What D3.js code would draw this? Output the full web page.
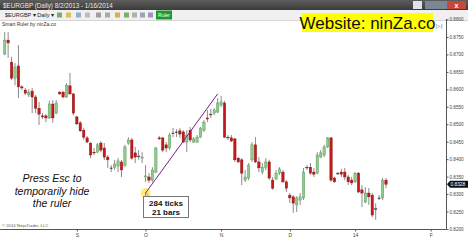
<!DOCTYPE html>
<html>
<head>
<meta charset="utf-8">
<script src="https://cdn.jsdelivr.net/npm/d3@7"></script>
<style>
  body { margin: 0; background: #fff; }
  svg { display: block; font-family: "Liberation Sans", Arial, sans-serif; }
</style>
</head>
<body>
<svg id="chart" width="468" height="240"></svg>
<script>
// Daily EURGBP candles, 8/2/2013 - 1/16/2014 (prices)
var opens = [0.8701,0.8741,0.8678,0.8632,0.8667,0.8607,0.8598,0.8584,0.8595,0.8578,
  0.8546,0.8524,0.8524,0.8518,0.8558,0.8532,0.8592,0.8592,0.8578,0.8610,
  0.8587,0.8521,0.8504,0.8483,0.8461,0.8446,0.8420,0.8420,0.8446,0.8432,
  0.8406,0.8375,0.8377,0.8380,0.8392,0.8383,0.8446,0.8455,0.8418,0.8409,
  0.8403,0.8349,0.8349,0.8340,0.8363,0.8461,0.8461,0.8441,0.8432,0.8475,
  0.8478,0.8481,0.8478,0.8449,0.8483,0.8449,0.8449,0.8463,0.8483,0.8518,
  0.8529,0.8532,0.8535,0.8555,0.8561,0.8463,0.8461,0.8458,0.8403,0.8398,
  0.8340,0.8346,0.8398,0.8441,0.8392,0.8363,0.8377,0.8392,0.8340,0.8343,
  0.8360,0.8363,0.8335,0.8297,0.8292,0.8269,0.8283,0.8289,0.8377,0.8377,
  0.8363,0.8360,0.8406,0.8412,0.8435,0.8461,0.8346,0.8360,0.8363,0.8363,
  0.8349,0.8340,0.8335,0.8360,0.8312,0.8277,0.8303,0.8297,0.8257,0.8289,
  0.8289,0.8340];
var highs = [0.8764,0.8764,0.8693,0.8675,0.8727,0.8612,0.8604,0.8601,0.8604,0.8584,
  0.8564,0.8532,0.8529,0.8567,0.8569,0.8569,0.8595,0.8595,0.8618,0.8647,
  0.8589,0.8524,0.8509,0.8489,0.8466,0.8449,0.8432,0.8446,0.8452,0.8446,
  0.8412,0.8383,0.8398,0.8403,0.8398,0.8441,0.8463,0.8461,0.8435,0.8426,
  0.8420,0.8383,0.8360,0.8377,0.8435,0.8466,0.8463,0.8449,0.8475,0.8489,
  0.8486,0.8489,0.8483,0.8483,0.8492,0.8463,0.8469,0.8492,0.8512,0.8541,
  0.8544,0.8546,0.8575,0.8581,0.8567,0.8469,0.8469,0.8461,0.8406,0.8403,
  0.8369,0.8389,0.8449,0.8463,0.8406,0.8389,0.8403,0.8398,0.8349,0.8369,
  0.8377,0.8369,0.8340,0.8303,0.8297,0.8294,0.8303,0.8375,0.8383,0.8389,
  0.8375,0.8420,0.8426,0.8441,0.8463,0.8463,0.8349,0.8363,0.8372,0.8375,
  0.8355,0.8349,0.8363,0.8363,0.8326,0.8320,0.8317,0.8303,0.8274,0.8297,
  0.8346,0.8346];
var lows = [0.8698,0.8690,0.8627,0.8612,0.8575,0.8598,0.8584,0.8578,0.8532,0.8532,
  0.8498,0.8515,0.8506,0.8515,0.8504,0.8529,0.8584,0.8575,0.8575,0.8584,
  0.8526,0.8498,0.8478,0.8455,0.8446,0.8403,0.8412,0.8418,0.8420,0.8398,
  0.8375,0.8363,0.8369,0.8363,0.8349,0.8377,0.8441,0.8398,0.8389,0.8398,
  0.8389,0.8335,0.8332,0.8335,0.8360,0.8455,0.8420,0.8420,0.8426,0.8463,
  0.8463,0.8461,0.8446,0.8420,0.8449,0.8446,0.8446,0.8461,0.8478,0.8506,
  0.8518,0.8526,0.8532,0.8549,0.8461,0.8455,0.8449,0.8392,0.8389,0.8326,
  0.8335,0.8340,0.8392,0.8389,0.8363,0.8357,0.8369,0.8340,0.8312,0.8340,
  0.8355,0.8332,0.8306,0.8274,0.8246,0.8249,0.8269,0.8283,0.8369,0.8355,
  0.8349,0.8357,0.8403,0.8406,0.8432,0.8335,0.8332,0.8355,0.8349,0.8340,
  0.8326,0.8326,0.8332,0.8303,0.8263,0.8274,0.8269,0.8234,0.8226,0.8283,
  0.8283,0.8317];
var closes = [0.8741,0.8733,0.8632,0.8664,0.8607,0.8604,0.8589,0.8592,0.8578,0.8546,
  0.8529,0.8521,0.8518,0.8558,0.8518,0.8561,0.8587,0.8578,0.8612,0.8587,
  0.8532,0.8501,0.8481,0.8463,0.8449,0.8412,0.8418,0.8441,0.8426,0.8406,
  0.8398,0.8374,0.8386,0.8395,0.8369,0.8435,0.8455,0.8403,0.8406,0.8408,
  0.8406,0.8352,0.8340,0.8369,0.8432,0.8458,0.8426,0.8432,0.8469,0.8474,
  0.8477,0.8472,0.8449,0.8469,0.8455,0.8458,0.8463,0.8489,0.8506,0.8515,
  0.8528,0.8541,0.8561,0.8564,0.8463,0.8462,0.8452,0.8398,0.8392,0.8360,
  0.8349,0.8383,0.8441,0.8392,0.8375,0.8377,0.8392,0.8346,0.8317,0.8360,
  0.8372,0.8335,0.8317,0.8289,0.8274,0.8289,0.8292,0.8363,0.8376,0.8360,
  0.8357,0.8412,0.8418,0.8435,0.8461,0.8340,0.8335,0.8359,0.8357,0.8349,
  0.8335,0.8332,0.8360,0.8306,0.8303,0.8303,0.8292,0.8240,0.8258,0.8288,
  0.8340,0.8328];

// month ticks (bar index where the month starts)
var tickIndex = [21, 41, 63, 83, 102, 124];
var tickLabels = ["S", "O", "N", "D", "14", "F"];

var priceTicks = d3.range(0.8200, 0.88001, 0.0050);

// Smart Ruler measurement
var ruler = { startBar: 41, startPrice: 0.8303, bars: 21, ticks: 284, tickSize: 0.0001 };

var svg = d3.select("#chart");

var axisX = 446, axisY = 229;

var x = d3.scaleLinear()
    .domain([0, opens.length - 1])
    .range([4.7, 386]);

var y = d3.scaleLinear()
    .domain([0.8200, 0.8800])
    .range([229, 19.5]);

// --- window title bar
var titleGrad = svg.append("defs").append("linearGradient")
    .attr("id", "titleGrad").attr("x1", 0).attr("x2", 0).attr("y1", 0).attr("y2", 1);
titleGrad.append("stop").attr("offset", "0%").attr("stop-color", "#5d5d5d");
titleGrad.append("stop").attr("offset", "100%").attr("stop-color", "#3a3a3a");

svg.append("rect").attr("x", 0).attr("y", 0).attr("width", 468).attr("height", 10)
    .attr("fill", "url(#titleGrad)");
svg.append("text").attr("x", 3).attr("y", 7.5)
    .attr("font-size", 6.3).attr("fill", "#e8e8e8")
    .text("$EURGBP (Daily)  8/2/2013 - 1/16/2014");

// window buttons
svg.append("rect").attr("x", 413).attr("y", 1).attr("width", 9).attr("height", 8).attr("fill", "#dde3ea");
svg.append("rect").attr("x", 425).attr("y", 1).attr("width", 11).attr("height", 8).attr("fill", "#7a8796");
svg.append("rect").attr("x", 436).attr("y", 1).attr("width", 11).attr("height", 8).attr("fill", "#7a8796");
svg.append("rect").attr("x", 447).attr("y", 1).attr("width", 19).attr("height", 8).attr("fill", "#c8463a");
svg.append("text").attr("x", 456.5).attr("y", 7.5).attr("text-anchor", "middle")
    .attr("font-size", 7).attr("font-weight", "bold").attr("fill", "#fff").text("x");

// --- toolbar
svg.append("rect").attr("x", 0).attr("y", 10).attr("width", 468).attr("height", 10).attr("fill", "#f0f0f0");
svg.append("line").attr("x1", 0).attr("x2", 468).attr("y1", 20.5).attr("y2", 20.5).attr("stroke", "#d6d6d6");
svg.append("text").attr("x", 5).attr("y", 17).attr("font-size", 5.5).attr("fill", "#222")
    .text("$EURGBP \u25BE  Daily \u25BE");
var icons = [57, 66, 76, 85, 96, 105, 115, 124, 132, 140, 148];
var iconColors = ["#5aa04a", "#d8b030", "#7aa0c8", "#b0b0b0", "#8a8a8a", "#9a9a9a", "#d89a30", "#5aa04a", "#a0a0a0", "#9090a0", "#8a7ab8"];
svg.selectAll(".icon").data(icons).enter().append("rect")
    .attr("class", "icon")
    .attr("x", function(d) { return d; }).attr("y", 12.5)
    .attr("width", 5).attr("height", 5)
    .attr("fill", function(d, i) { return iconColors[i]; })
    .attr("opacity", 0.8);
svg.append("rect").attr("x", 156).attr("y", 10.5).attr("width", 16).attr("height", 9).attr("fill", "#1f9a2a");
svg.append("text").attr("x", 164).attr("y", 17).attr("text-anchor", "middle")
    .attr("font-size", 5).attr("fill", "#fff").text("Ruler");

svg.append("text").attr("x", 2).attr("y", 26).attr("font-size", 5).attr("fill", "#333")
    .text("Smart Ruler by ninZa.co");

// --- axes
svg.append("line").attr("x1", axisX + 0.5).attr("x2", axisX + 0.5).attr("y1", 19).attr("y2", axisY)
    .attr("stroke", "#555");
svg.append("line").attr("x1", 0).attr("x2", axisX + 0.5).attr("y1", axisY + 0.5).attr("y2", axisY + 0.5)
    .attr("stroke", "#555");

var yAxis = svg.append("g").attr("transform", "translate(" + (axisX + 0.5) + ",0)")
    .call(d3.axisRight(y).tickValues(priceTicks).tickSize(2).tickFormat(d3.format(".4f")));
yAxis.select(".domain").remove();
yAxis.selectAll("line").attr("stroke", "#555");
yAxis.selectAll("text").attr("font-size", 4.6).attr("fill", "#444").attr("x", 3)
    .attr("font-family", "Liberation Sans, Arial, sans-serif");

var xAxis = svg.append("g").attr("transform", "translate(0," + (axisY + 0.5) + ")")
    .call(d3.axisBottom(x).tickValues(tickIndex).tickSize(2)
        .tickFormat(function(d, i) { return tickLabels[i]; }));
xAxis.select(".domain").remove();
xAxis.selectAll("line").attr("stroke", "#555");
xAxis.selectAll("text").attr("font-size", 5).attr("fill", "#444").attr("y", 4)
    .attr("font-family", "Liberation Sans, Arial, sans-serif");

svg.append("text").attr("x", 2).attr("y", 227).attr("font-size", 4.2).attr("fill", "#555")
    .text("\u00A9 2014 NinjaTrader, LLC");

// --- candles
var candles = svg.append("g").selectAll("g")
    .data(opens.map(function(o, i) {
        return { i: i, o: o, h: highs[i], l: lows[i], c: closes[i] };
    }))
    .enter().append("g");

candles.append("line")
    .attr("x1", function(d) { return x(d.i); })
    .attr("x2", function(d) { return x(d.i); })
    .attr("y1", function(d) { return y(d.h); })
    .attr("y2", function(d) { return y(d.l); })
    .attr("stroke", "#6e6e6e").attr("stroke-width", 0.8);

candles.append("rect")
    .attr("x", function(d) { return x(d.i) - 1.2; })
    .attr("width", 2.4)
    .attr("y", function(d) { return y(Math.max(d.o, d.c)); })
    .attr("height", function(d) { return Math.max(0.8, Math.abs(y(d.o) - y(d.c))); })
    .attr("fill", function(d) {
        if (Math.abs(d.o - d.c) < 0.00015) return "#444";
        return d.c > d.o ? "#8fca8f" : "#c41a1a";
    })
    .attr("stroke", function(d) {
        if (Math.abs(d.o - d.c) < 0.00015) return "#444";
        return d.c > d.o ? "#4f8f4f" : "#8a0c0c";
    })
    .attr("stroke-width", 0.4);

// last price marker
var last = closes[closes.length - 1];
svg.append("path")
    .attr("d", "M" + (axisX + 1) + "," + y(last) + "l3,-3.5h19v7h-19z")
    .attr("fill", "#111");
svg.append("text").attr("x", axisX + 4.5).attr("y", y(last) + 2)
    .attr("font-size", 4.8).attr("fill", "#fff").text(d3.format(".4f")(last));

// --- website banner
svg.append("rect").attr("x", 302).attr("y", 13).attr("width", 131).attr("height", 19).attr("fill", "#ffff00");
svg.append("text").attr("x", 367.5).attr("y", 28.5).attr("text-anchor", "middle")
    .attr("font-size", 17).attr("fill", "#111").text("Website: ninZa.co");
svg.append("text").attr("x", 436).attr("y", 28).attr("font-size", 6).attr("fill", "#666").text("\u25B7|");

// --- hint text
var hint = ["Press Esc to", "temporarily hide", "the ruler"];
svg.append("g").selectAll("text").data(hint).enter().append("text")
    .attr("x", 52).attr("y", function(d, i) { return 182 + i * 12.5; })
    .attr("text-anchor", "middle").attr("font-size", 10.5).attr("font-style", "italic")
    .attr("fill", "#111").text(function(d) { return d; });

// --- smart ruler
var rx1 = x(ruler.startBar), ry1 = y(ruler.startPrice);
var rx2 = x(ruler.startBar + ruler.bars), ry2 = y(ruler.startPrice + ruler.ticks * ruler.tickSize);
svg.append("circle").attr("cx", rx1).attr("cy", ry1).attr("r", 5)
    .attr("fill", "#ffe84a").attr("opacity", 0.75);
svg.append("line").attr("x1", rx1).attr("y1", ry1).attr("x2", rx2).attr("y2", ry2)
    .attr("stroke", "#7a1f8a").attr("stroke-width", 1);
svg.append("path")
    .attr("d", "M" + rx1 + "," + ry1 + "l0,7l1.8,-1.6l1.4,3l1,-0.5l-1.4,-2.9l2.4,0z")
    .attr("fill", "#fff").attr("stroke", "#222").attr("stroke-width", 0.5);

svg.append("rect").attr("x", 143.5).attr("y", 196.5).attr("width", 45).attr("height", 21)
    .attr("fill", "#fff").attr("stroke", "#777");
svg.append("text").attr("x", 166).attr("y", 205.5).attr("text-anchor", "middle")
    .attr("font-size", 8).attr("font-weight", "bold").attr("fill", "#111")
    .text(ruler.ticks + " ticks");
svg.append("text").attr("x", 166).attr("y", 214.5).attr("text-anchor", "middle")
    .attr("font-size", 8).attr("font-weight", "bold").attr("fill", "#111")
    .text(ruler.bars + " bars");
</script>
</body>
</html>
